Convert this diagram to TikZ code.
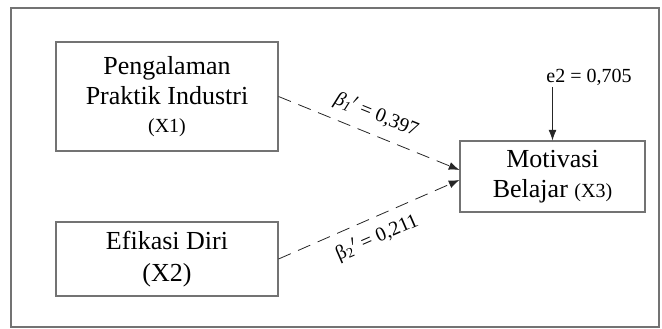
\documentclass[tikz,border=0pt]{standalone}
\usepackage{fontspec}
\setmainfont{Liberation Serif}
\usetikzlibrary{arrows.meta}

\begin{document}
\begin{tikzpicture}[x=0.75pt, y=-0.75pt,
     var/.style={draw=gray!90!black, line width=0.8pt, align=center, inner sep=0pt},
     big/.style={font=\fontsize{19.5}{22.5}\selectfont},
     effect/.style={draw=black!85, line width=0.6pt, dash pattern=on 10pt off 6pt, -{Latex[length=8pt,width=6pt]}},
     coef/.style={font=\fontsize{15}{17}\selectfont, sloped, midway}]
               \useasboundingbox (0,0) rectangle (662,329);
               \draw[gray!90!black, line width=0.8pt] (11,8) rectangle (659,327);
               % variabel
               \node[var, big, minimum width=166.5pt, minimum height=81.75pt] (pik) at (167,96.5)
                    {Pengalaman\\Praktik Industri\\[-1pt]{\fontsize{15}{17}\selectfont (X1)}};
               \node[var, big, minimum width=166.5pt, minimum height=55.5pt] (ed) at (167,259)
                    {Efikasi Diri\\[1.5pt](X2)};
               \node[var, big, minimum width=138.75pt, minimum height=53.25pt] (mb) at (552.5,176.5)
                    {Motivasi\\Belajar {\fontsize{15}{17}\selectfont (X3)}};
               % residu
               \node[font=\fontsize{15}{17}\selectfont, inner sep=1pt] (e2) at (589,77) {e2 = 0,705};
               \coordinate (e2in) at (e2.south -| mb.north);
               \draw[black!85, line width=0.6pt, -{Latex[length=8pt,width=6pt]}] (e2in) -- (mb.north);
               % jalur
               \draw[effect] (pik.east) -- ([yshift=4.9pt]mb.west)
                    node[coef, above=4pt]{{\itshape β\textsubscript{1}}$'$ = 0,397};
               \draw[effect] (ed.east) -- ([yshift=-2.6pt]mb.west)
                    node[coef, below=4pt]{β\textsubscript{2}$'$ = 0,211};
          \end{tikzpicture}
\end{document}
